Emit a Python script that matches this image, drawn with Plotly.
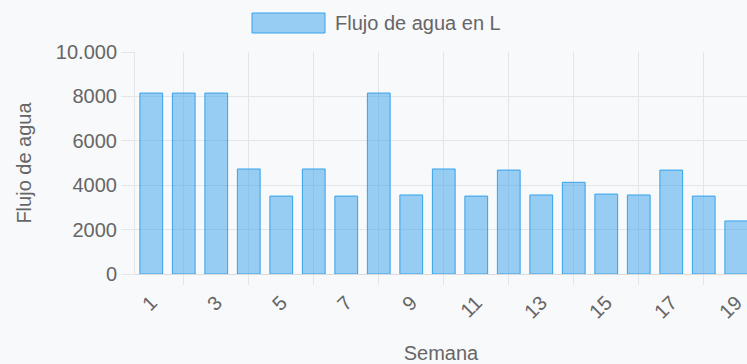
import plotly.graph_objects as go

# Flujo de agua por semana (L)
semanas = list(range(1, 20))
flujo = [8150, 8150, 8150, 4730, 3510, 4730, 3510, 8150, 3560, 4730,
         3510, 4680, 3560, 4130, 3600, 3560, 4680, 3510, 2390]
y_ticks = [0, 2000, 4000, 6000, 8000, 10000]
y_labels = ['0', '2000', '4000', '6000', '8000', '10.000']

W, H = 747, 364
L, T, B = 135, 52, 90
FONT = 'Liberation Sans, Arial, sans-serif'
GRAY = '#666666'
GRID = '#e4e5e6'
BG = '#f8f9fa'

fig = go.Figure()
fig.add_trace(go.Bar(
    x=semanas,
    y=flujo,
    width=0.7,
    name='Flujo de agua en L',
    marker=dict(color='rgba(54,162,235,0.5)',
                line=dict(color='rgba(54,162,235,1)', width=1)),
    showlegend=False,
))

# chart.js style legend: wide box + label (pixel -> paper coordinates)
pw = W - L
ph = H - T - B
def px_x(p):
    return (p - L) / pw
def px_y(p):
    return (H - B - p) / ph

fig.add_shape(type='rect', xref='paper', yref='paper',
              x0=px_x(252), x1=px_x(325), y0=px_y(33), y1=px_y(13),
              fillcolor='rgba(54,162,235,0.5)',
              line=dict(color='rgba(54,162,235,1)', width=1))
fig.add_annotation(text='Flujo de agua en L', xref='paper', yref='paper',
                   x=px_x(333), y=px_y(23), xanchor='left', yanchor='middle',
                   showarrow=False, font=dict(size=20, color=GRAY))

fig.update_xaxes(
    range=[0.5, 0.5 + pw / 32.5],
    automargin=False,
    tickmode='array',
    tickvals=semanas[::2],
    ticktext=[str(s) for s in semanas[::2]],
    tickangle=-45,
    ticks='',
    ticklabelstandoff=12,
    showgrid=False,
    zeroline=False,
    showline=False,
    minor=dict(tickmode='array', tickvals=semanas[1::2], showgrid=True,
               gridcolor=GRID, gridwidth=1, ticks='outside', ticklen=10,
               tickcolor=GRID),
    title=dict(text='Semana', standoff=24, font=dict(size=20, color=GRAY)),
    tickfont=dict(size=20, color=GRAY),
)
fig.update_yaxes(
    range=[0, 10000],
    automargin=False,
    tickmode='array',
    tickvals=y_ticks,
    ticktext=y_labels,
    ticks='outside',
    ticklen=13,
    tickcolor=GRID,
    showgrid=True,
    gridcolor=GRID,
    zeroline=True,
    zerolinecolor='#d9dadb',
    zerolinewidth=1,
    showline=True,
    linecolor=GRID,
    linewidth=1,
    title=dict(text='Flujo de agua', standoff=18, font=dict(size=20, color=GRAY)),
    tickfont=dict(size=20, color=GRAY),
)

fig.update_layout(
    width=W,
    height=H,
    margin=dict(l=L, r=0, t=T, b=B),
    paper_bgcolor=BG,
    plot_bgcolor=BG,
    font=dict(family=FONT, size=20, color=GRAY),
    bargap=0.3,
)

fig.write_html('out.html', config={'displayModeBar': False},
               post_script="document.body.style.margin='0';")
